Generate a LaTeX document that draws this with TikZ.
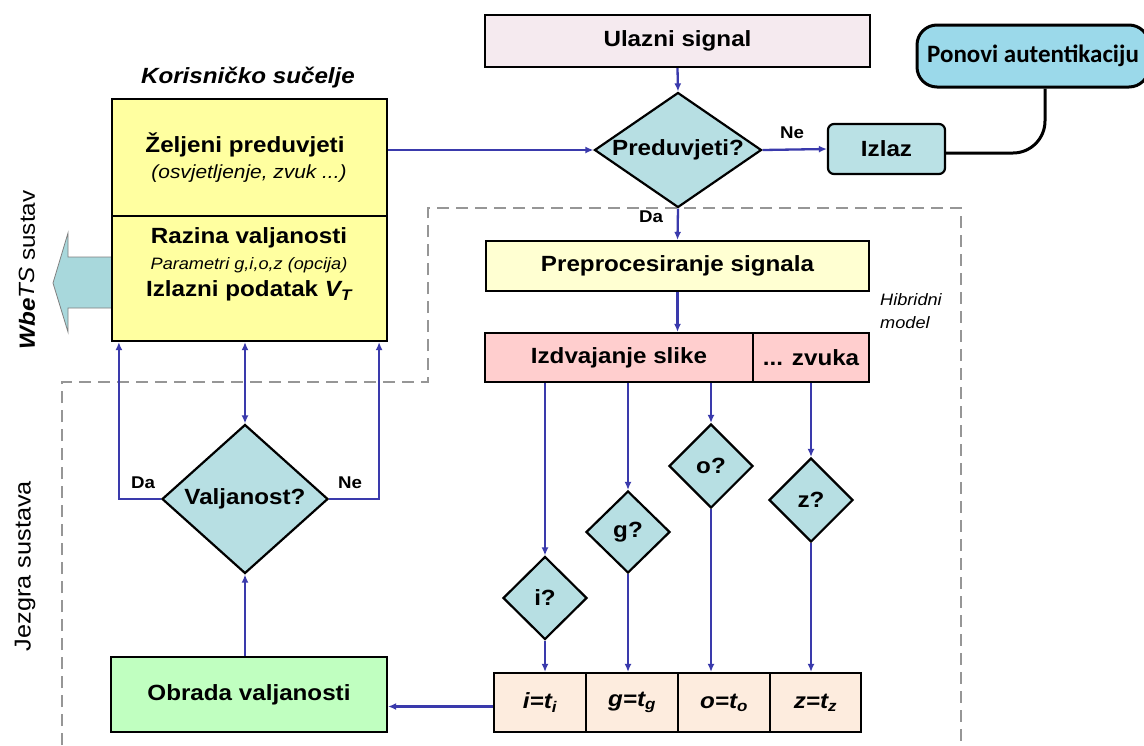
\documentclass[tikz,border=0pt]{standalone}
\usepackage{fontspec}
\setmainfont{Liberation Sans}[FakeStretch=1.1]
\newfontfamily\carl{Carlito}
\usetikzlibrary{shapes.geometric,arrows.meta}
\definecolor{ulazcol}{RGB}{245,234,239}
\definecolor{diacol}{RGB}{183,223,227}
\definecolor{izlazcol}{RGB}{186,225,229}
\definecolor{poncol}{RGB}{155,217,234}
\definecolor{yelcol}{RGB}{255,255,160}
\definecolor{creamcol}{RGB}{255,255,210}
\definecolor{pinkcol}{RGB}{255,206,206}
\definecolor{peachcol}{RGB}{253,236,222}
\definecolor{greencol}{RGB}{192,255,192}
\definecolor{bigarrcol}{RGB}{168,216,220}
\definecolor{arrcol}{RGB}{58,58,172}
\definecolor{dashcol}{RGB}{150,150,150}
\newcommand\fbig{\fontsize{22}{26}\selectfont\bfseries}
\tikzset{
  box/.style={draw=black, line width=2.2pt, inner sep=0pt, font=\fbig},
  dia/.style={diamond, draw=black, line width=2.2pt, inner sep=0pt, fill=diacol, aspect=1, font=\fbig},
  arr/.style={draw=arrcol, line width=2.3pt, -{Latex[length=8pt,width=7pt]}},
  lbl/.style={font=\fontsize{17}{20}\selectfont\bfseries, inner sep=0pt},
  txt/.style={inner sep=0pt}
}
\begin{document}
\begin{tikzpicture}[x=1pt,y=-1pt]
\useasboundingbox[fill=white] (0,0) rectangle (1144,745);

% dashed region
\draw[dashcol, line width=2.5pt, dash pattern=on 12pt off 7pt]
  (62,745) -- (62,382) -- (428,382) -- (428,208) -- (961,208) -- (961,745);

% big left arrow
\path[fill=bigarrcol, draw=gray, line width=0.8pt]
  (112,257) -- (68,257) -- (68,233) -- (53,283) -- (68,332) -- (68,308) -- (112,308);

% side labels
\node[txt, rotate=90, font=\fontsize{22}{26}\selectfont] (wbets) at (27,270)
  {{\bfseries\itshape Wbe}{\itshape TS} sustav};
\node[txt, rotate=90, font=\fontsize{23}{27}\selectfont] (jezgra) at (25,566) {Jezgra sustava};

% user interface box
\node[txt, font=\fbig\itshape] (kor) at (248,78) {Korisničko sučelje};
\node[box, fill=yelcol, minimum width=275pt, minimum height=117pt] (pref) at (249.5,157.5) {};
\node[box, fill=yelcol, minimum width=275pt, minimum height=125pt] (raz) at (249.5,278.5) {};
\node[txt, font=\fbig] (t1) at (245,145) {Željeni preduvjeti};
\node[txt, font=\fontsize{19}{22}\selectfont\itshape] (t2) at (249,174) {(osvjetljenje, zvuk ...)};
\node[txt, font=\fbig] (t3) at (249,238) {Razina valjanosti};
\node[txt, font=\fontsize{16.5}{19}\selectfont\itshape] (t4) at (249,265) {Parametri g,i,o,z (opcija)};
\node[txt, font=\fbig] (t5) at (249,291) {Izlazni podatak {\itshape V}\textsubscript{\itshape T}};

% top flow
\node[box, fill=ulazcol, minimum width=385pt, minimum height=52pt] (ulaz) at (677.5,41) {Ulazni signal};
\node[dia, aspect=1.5, minimum width=167pt, minimum height=115pt] (pred) at (678,150) {Preduvjeti?};
\node[box, fill=izlazcol, rounded corners=6pt, minimum width=117pt, minimum height=50pt] (izlaz) at (886.5,149) {Izlaz};
\node[draw=black, line width=3pt, fill=poncol, rounded corners=20pt, inner sep=0pt,
      minimum width=232pt, minimum height=62pt, font=\carl\fontsize{25}{30}\selectfont\bfseries] (pon) at (1033,56) {Ponovi autentikaciju};
\node[box, fill=creamcol, minimum width=383pt, minimum height=50pt] (prep) at (677.5,266) {Preprocesiranje signala};
\node[box, fill=pinkcol, minimum width=268pt, minimum height=49pt] (izd) at (619,357.5) {Izdvajanje slike};
\node[box, fill=pinkcol, minimum width=116pt, minimum height=49pt] (zvu) at (811,357.5) {... zvuka};
\node[txt, font=\fontsize{16.5}{23}\selectfont\itshape, align=left, anchor=west] (hib) at (880,311) {Hibridni\\model};

% feature diamonds
\node[dia, minimum width=84pt, minimum height=84pt] (do) at (711,466) {o?};
\node[dia, minimum width=84pt, minimum height=84pt] (dz) at (811,500) {z?};
\node[dia, minimum width=84pt, minimum height=82pt] (dg) at (628,532) {g?};
\node[dia, minimum width=84pt, minimum height=83pt] (di) at (545,598) {i?};

% bottom row
\node[box, fill=peachcol, minimum width=92pt, minimum height=59pt, font=\fbig\itshape] (bi) at (540,702.5) {i=t\textsubscript{i}};
\node[box, fill=peachcol, minimum width=92pt, minimum height=59pt, font=\fbig\itshape] (bg) at (632,702.5) {g=t\textsubscript{g}};
\node[box, fill=peachcol, minimum width=92pt, minimum height=59pt, font=\fbig\itshape] (bo) at (724,702.5) {o=t\textsubscript{o}};
\node[box, fill=peachcol, minimum width=91pt, minimum height=59pt, font=\fbig\itshape] (bz) at (815.5,702.5) {z=t\textsubscript{z}};

% validity
\node[dia, aspect=1.1, minimum width=166pt, minimum height=149pt] (valj) at (245,499) {Valjanost?};
\node[box, fill=greencol, minimum width=276pt, minimum height=75pt] (obr) at (249,694.5) {Obrada valjanosti};

% labels
\node[lbl] (ne1) at (792,133) {Ne};
\node[lbl] (da1) at (651,217) {Da};
\node[lbl] (da2) at (143,483) {Da};
\node[lbl] (ne2) at (350,483) {Ne};

% connectors
\draw[arr] (ulaz.south) -- (pred.north);
\draw[arr] (pred.west -| pref.east) -- (pred.west);
\draw[arr] (pred.east) -- (izlaz.west);
\draw[black, line width=3pt, rounded corners=32pt] ([yshift=-4pt]izlaz.east) -| ([xshift=12pt]pon.south);
\draw[arr] (pred.south) -- (prep.north);
\draw[arr] (prep.south) -- (prep.south |- izd.north);
\draw[arr] (di.north |- izd.south) -- (di.north);
\draw[arr] (dg.north |- izd.south) -- (dg.north);
\draw[arr] (do.north |- izd.south) -- (do.north);
\draw[arr] (zvu.south) -- (dz.north);
\draw[arr] (di.south) -- (di.south |- bi.north);
\draw[arr] (dg.south) -- (dg.south |- bg.north);
\draw[arr] (do.south) -- (do.south |- bo.north);
\draw[arr] (dz.south) -- (dz.south |- bz.north);
\draw[arr] ([yshift=-4pt]bi.west) -- ([yshift=-4pt]bi.west -| obr.east);
\draw[arr] (valj.south |- obr.north) -- (valj.south);
\draw[arr, {Latex[length=8pt,width=7pt]}-{Latex[length=8pt,width=7pt]}] (valj.north |- raz.south) -- (valj.north);
\draw[arr] (valj.west) -| ([xshift=8pt]raz.south west);
\draw[arr] (valj.east) -| ([xshift=-9pt]raz.south east);
\end{tikzpicture}
\end{document}
